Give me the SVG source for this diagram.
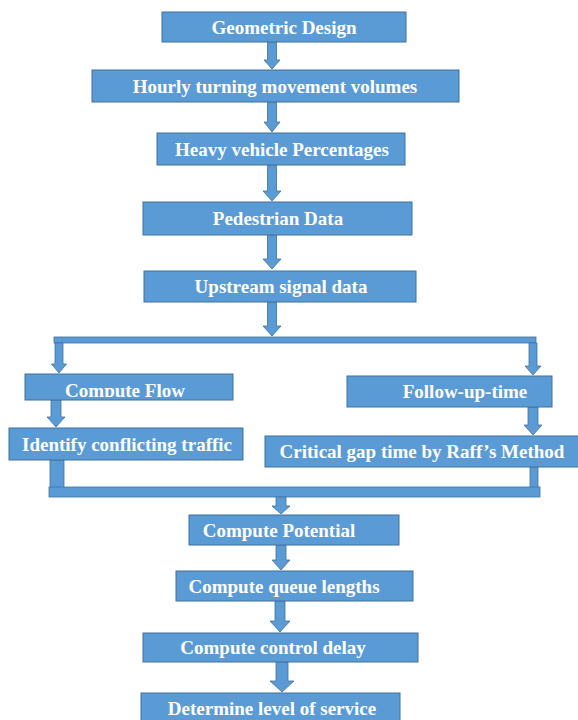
<svg xmlns="http://www.w3.org/2000/svg" width="578" height="720" viewBox="0 0 578 720">
<style>
.box{fill:#5B9BD5;stroke:#41719C;stroke-width:1}
.conn{fill:#5B9BD5;stroke:#41719C;stroke-width:0.8}
.t{font-family:"Liberation Serif","Times New Roman",serif;font-weight:bold;font-size:19px;fill:#FFFFFF;text-anchor:middle}
</style>
<defs>
<clipPath id="cfClip"><rect x="25" y="374" width="208" height="23"/></clipPath>
</defs>
<rect x="0" y="0" width="578" height="720" fill="#FFFFFF"/>
<g id="connectors">
<polygon class="conn" points="267.5,42 276.5,42 276.5,60 280,60 272,69 264,60 267.5,60"/>
<polygon class="conn" points="267.5,102 276.5,102 276.5,122 280,122 272,132 264,122 267.5,122"/>
<polygon class="conn" points="267.5,165 276.5,165 276.5,191 281,191 272,201 263,191 267.5,191"/>
<polygon class="conn" points="267.5,235 276.5,235 276.5,259 281,259 272,269 263,259 267.5,259"/>
<polygon class="conn" points="267.5,302 276.5,302 276.5,326 281,326 272,336 263,326 267.5,326"/>
<rect class="conn" x="54" y="337" width="482" height="6"/>
<polygon class="conn" points="55,343 63,343 63,364 66.5,364 59,373 51.5,364 55,364"/>
<polygon class="conn" points="529,343 537,343 537,366 541,366 533,375 525,366 529,366"/>
<polygon class="conn" points="51,400 61,400 61,417 65,417 56,427 47,417 51,417"/>
<polygon class="conn" points="528,407 538,407 538,425 542,425 533,435 524,425 528,425"/>
<rect class="conn" x="50" y="460" width="14" height="28"/>
<rect class="conn" x="530" y="467" width="8" height="21"/>
<rect class="conn" x="49" y="487" width="491" height="10"/>
<polygon class="conn" points="276,497 286,497 286,506 290,506 281,514 272,506 276,506"/>
<polygon class="conn" points="276,545 286,545 286,560 290,560 281,570 272,560 276,560"/>
<polygon class="conn" points="275,601 285,601 285,621 290,621 280,632 270,621 275,621"/>
<polygon class="conn" points="276,662 288,662 288,681 294,681 282,692 270,681 276,681"/>
</g>
<g id="n1"><rect class="box" x="162" y="12" width="244" height="30"/><text class="t" x="284" y="33.5">Geometric Design</text></g>
<g id="n2"><rect class="box" x="92" y="70" width="367" height="32"/><text class="t" x="275" y="92.5">Hourly turning movement volumes</text></g>
<g id="n3"><rect class="box" x="157" y="133" width="248" height="32"/><text class="t" x="282" y="155.5">Heavy vehicle Percentages</text></g>
<g id="n4"><rect class="box" x="143" y="202" width="269" height="33"/><text class="t" x="278" y="225">Pedestrian Data</text></g>
<g id="n5"><rect class="box" x="144" y="271" width="272" height="31"/><text class="t" x="281" y="293">Upstream signal data</text></g>
<g id="n6"><rect class="box" x="25" y="374" width="208" height="26"/><text class="t" x="125" y="397" clip-path="url(#cfClip)">Compute Flow</text></g>
<g id="n7"><rect class="box" x="347" y="376" width="205" height="31"/><text class="t" x="465" y="398">Follow-up-time</text></g>
<g id="n8"><rect class="box" x="9" y="428" width="234" height="32"/><text class="t" x="127" y="450.5">Identify conflicting traffic</text></g>
<g id="n9"><rect class="box" x="265" y="436" width="320" height="31"/><text class="t" x="422" y="458">Critical gap time by Raff’s Method</text></g>
<g id="n10"><rect class="box" x="189" y="515" width="210" height="30"/><text class="t" x="279" y="536.5">Compute Potential</text></g>
<g id="n11"><rect class="box" x="176" y="571" width="237" height="30"/><text class="t" x="284" y="592.5">Compute queue lengths</text></g>
<g id="n12"><rect class="box" x="143" y="633" width="275" height="29"/><text class="t" x="273" y="654">Compute control delay</text></g>
<g id="n13"><rect class="box" x="141" y="693" width="259" height="32"/><text class="t" x="272" y="715">Determine level of service</text></g>
</svg>
